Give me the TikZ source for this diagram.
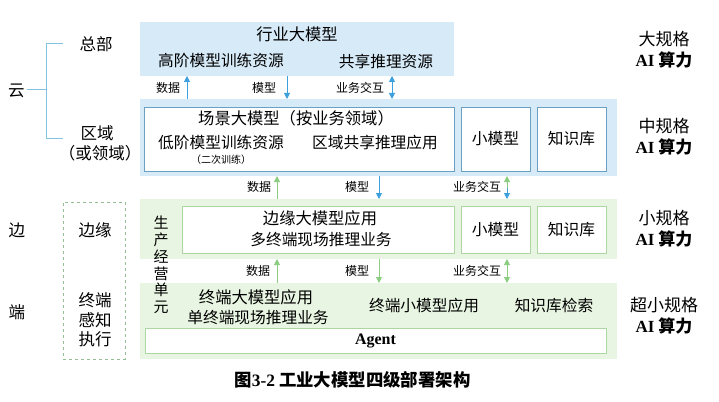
\documentclass[tikz,border=0pt]{standalone}
\usepackage{fontspec}
\setmainfont{Noto Sans CJK SC}
\newfontfamily\tnr{Liberation Serif}
\usetikzlibrary{arrows.meta}
\definecolor{bfill}{RGB}{214,234,248}
\definecolor{bline}{RGB}{105,160,195}
\definecolor{ablue}{RGB}{60,160,220}
\definecolor{gfill}{RGB}{232,245,226}
\definecolor{gline}{RGB}{172,215,160}
\definecolor{agreen}{RGB}{140,205,130}
\definecolor{brk}{RGB}{130,195,225}
\definecolor{dbox}{RGB}{150,190,150}
\tikzset{
  band/.style={draw=none, inner sep=0, outer sep=0},
  bandb/.style={band, fill=bfill},
  bandg/.style={band, fill=gfill},
  boxb/.style={draw=bline, line width=0.8pt, fill=white, inner sep=0},
  boxg/.style={draw=gline, line width=0.8pt, fill=white, inner sep=0},
  txt/.style={inner sep=0, font=\fontsize{15.7}{18}\selectfont},
  ttl/.style={inner sep=0, font=\fontsize{16.3}{18}\selectfont},
  lbl/.style={inner sep=0, font=\fontsize{12}{14}\selectfont},
  small/.style={inner sep=0, font=\fontsize{10}{12}\selectfont},
  side/.style={inner sep=0, font=\fontsize{16.5}{19}\selectfont},
  rlab/.style={inner sep=0, align=center, font=\fontsize{17}{21}\selectfont},
  tip/.style={Triangle[width=6pt,length=6pt]},
  arB/.style={draw=ablue, line width=0.9pt, -{Triangle[width=6pt,length=6pt]}, ablue},
  arG/.style={draw=agreen, line width=0.9pt, -{Triangle[width=6pt,length=6pt]}, agreen},
}
\newcommand{\ai}{{\tnr\bfseries AI} {\bfseries 算力}}
\begin{document}
\begin{tikzpicture}[x=1pt,y=-1pt]
\useasboundingbox (0,0) rectangle (719,401);
% bands
\node[bandb, minimum width=314pt, minimum height=54pt] (top) at (297,49) {};
\node[bandb, minimum width=477pt, minimum height=77pt] (reg) at (378.5,137.5) {};
\node[bandg, minimum width=477pt, minimum height=60pt] (edge) at (378.5,229) {};
\node[bandg, minimum width=477pt, minimum height=76pt] (term) at (378.5,321) {};
% cloud region boxes
\node[boxb, minimum width=310pt, minimum height=64pt] (rbox) at (299,139) {};
\node[boxb, minimum width=69pt, minimum height=64pt] (rsm) at (495.5,139) {};
\node[boxb, minimum width=69pt, minimum height=64pt] (rkb) at (571.5,139) {};
% edge boxes
\node[boxg, minimum width=272pt, minimum height=47pt] (ebox) at (318,229.5) {};
\node[boxg, minimum width=69pt, minimum height=47pt] (esm) at (495.5,229.5) {};
\node[boxg, minimum width=69pt, minimum height=47pt] (ekb) at (571.5,229.5) {};
% agent
\node[boxg, minimum width=461pt, minimum height=25pt] (agent) at (375.5,340.5) {\tnr\bfseries\fontsize{16}{18}\selectfont Agent};
% texts top
\node[ttl] (t1) at (297,34) {行业大模型};
\node[txt] (t2) at (221,61) {高阶模型训练资源};
\node[txt] (t3) at (386,61) {共享推理资源};
% texts region
\node[ttl] (r1) at (296,118) {场景大模型（按业务领域）};
\node[txt] (r2) at (221,143) {低阶模型训练资源};
\node[small] (r3) at (221,160) {（二次训练）};
\node[txt] (r4) at (375,143) {区域共享推理应用};
\node[txt] at (rsm) {小模型};
\node[txt] at (rkb) {知识库};
% texts edge
\node[ttl] (e1) at (320,218) {边缘大模型应用};
\node[txt] (e2) at (321,240) {多终端现场推理业务};
\node[txt] at (esm) {小模型};
\node[txt] at (ekb) {知识库};
% texts terminal
\node[ttl] (m1) at (256,297) {终端大模型应用};
\node[txt] (m2) at (258,318) {单终端现场推理业务};
\node[txt] (m3) at (424,306) {终端小模型应用};
\node[txt] (m4) at (554,306) {知识库检索};
% vertical unit
\node[inner sep=0, align=center, font=\fontsize{15}{16.8}\selectfont] (unit) at (161,265) {生\\产\\经\\营\\单\\元};
% arrow row 1
\coordinate (a1b) at (187,99); \coordinate (a1t) at (187,76);
\coordinate (b1t) at (287,76); \coordinate (b1b) at (287,99);
\coordinate (c1t) at (392,76); \coordinate (c1b) at (392,99);
\draw[arB] (a1b) -- (a1t);
\draw[arB] (b1t) -- (b1b);
\draw[arB, {Triangle[width=6pt,length=6pt]}-{Triangle[width=6pt,length=6pt]}] (c1t) -- (c1b);
\node[lbl] (l11) at (168,88) {数据};
\node[lbl] (l12) at (264,88) {模型};
\node[lbl] (l13) at (360,88) {业务交互};
% arrow row 2
\coordinate (a2b) at (277,199); \coordinate (a2t) at (277,176);
\coordinate (b2t) at (379,176); \coordinate (b2b) at (379,199);
\coordinate (c2t) at (507,176); \coordinate (c2m) at (507,187.5); \coordinate (c2b) at (507,199);
\draw[arG] (a2b) -- (a2t);
\draw[arB] (b2t) -- (b2b);
\draw[arG] (c2m) -- (c2t);
\draw[arB] (c2m) -- (c2b);
\node[lbl] (l21) at (259,187) {数据};
\node[lbl] (l22) at (357,187) {模型};
\node[lbl] (l23) at (477,187) {业务交互};
% arrow row 3
\coordinate (a3b) at (277,283); \coordinate (a3t) at (277,259);
\coordinate (b3t) at (379,259); \coordinate (b3b) at (379,283);
\coordinate (c3t) at (507,259); \coordinate (c3b) at (507,283);
\draw[arG] (a3b) -- (a3t);
\draw[arG] (b3t) -- (b3b);
\draw[arG, {Triangle[width=6pt,length=6pt]}-{Triangle[width=6pt,length=6pt]}] (c3t) -- (c3b);
\node[lbl] (l31) at (258,271) {数据};
\node[lbl] (l32) at (357,271) {模型};
\node[lbl] (l33) at (477,271) {业务交互};
% left side
\node[side] (yun) at (16.5,91) {云};
\node[side] (zb) at (96,44) {总部};
\node[side] (qy) at (97,133) {区域};
\node[side] (hly) at (100,153) {（或领域）};
\node[side] (bian) at (17,230) {边};
\node[side] (duan) at (17,312) {端};
\coordinate (bk1) at (46,43); \coordinate (bk2) at (46,138);
\coordinate (bk1e) at (63,43); \coordinate (bk2e) at (63,138);
\coordinate (bkm) at (46,89); \coordinate (bky) at (27,89);
\draw[brk, line width=0.8pt] (bk1e) -- (bk1) -- (bk2) -- (bk2e);
\draw[brk, line width=0.8pt] (bky) -- (bkm);
\node[draw=dbox, dashed, line width=0.7pt, minimum width=62pt, minimum height=157pt, inner sep=0] (dbx) at (94,280.5) {};
\node[side] (by) at (95,230) {边缘};
\node[side, align=center, font=\fontsize{16.5}{19.7}\selectfont] (zd) at (95,320) {终端\\感知\\执行};
% right side
\node[rlab] (g1) at (664,50) {大规格\\\ai};
\node[rlab] (g2) at (664,136.5) {中规格\\\ai};
\node[rlab] (g3) at (664,229) {小规格\\\ai};
\node[rlab] (g4) at (664,316) {超小规格\\\ai};
% caption
\node[inner sep=0, font=\fontsize{17.4}{19}\selectfont\bfseries] (cap) at (352.5,380) {图{\tnr 3-2} 工业大模型四级部署架构};
\end{tikzpicture}
\end{document}
